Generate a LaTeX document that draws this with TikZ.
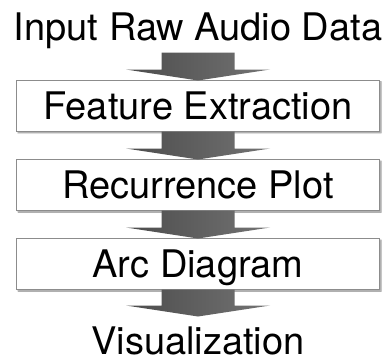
\documentclass[tikz,border=0pt]{standalone}
\usepackage{fontspec}
\setmainfont{TeX Gyre Heros}
\usepackage{tikz}
\usetikzlibrary{positioning,calc,shadows.blur}
\tikzset{
  label text/.style={font=\fontsize{38pt}{40pt}\selectfont, text height=27pt, text depth=0pt, inner xsep=0pt, outer sep=0pt},
  stage/.style={label text, draw=black!45, line width=0.8pt, fill=white, minimum width=363pt, minimum height=51pt,
    blur shadow={shadow xshift=1.5pt, shadow yshift=-1.5pt, shadow blur radius=1.2pt, shadow opacity=45}},
  endtext/.style={label text, inner ysep=13pt},
  blockarrow/.style={shading=axis, left color=black!70, middle color=black!35, right color=black!55, shading angle=90}
}

\begin{document}
\begin{tikzpicture}[x=1pt, y=1pt, node distance=28pt]
  \useasboundingbox (0,0) rectangle (390,360);
  \node[endtext, inner ysep=12.5pt] (input) at (198,333.5) {Input Raw Audio Data};
  \node[stage, below=of input] (feat) {Feature Extraction};
  \node[stage, below=of feat] (rec) {Recurrence Plot};
  \node[stage, below=of rec] (arc) {Arc Diagram};
  \node[endtext, inner ysep=11pt, below=27pt of arc] (vis) {Visualization};

  % fat shaded arrows between the stages
  \foreach \a/\b in {input/feat, feat/rec, rec/arc, arc/vis}
    \shade[blockarrow] ($(\a.south)+(-36.5,0)$) -- ($(\a.south)+(36.5,0)$)
      -- ($(\b.north)+(36.5,11)$) -- ($(\b.north)+(72,11)$) -- (\b.north)
      -- ($(\b.north)+(-72,11)$) -- ($(\b.north)+(-36.5,11)$) -- cycle;
\end{tikzpicture}
\end{document}
